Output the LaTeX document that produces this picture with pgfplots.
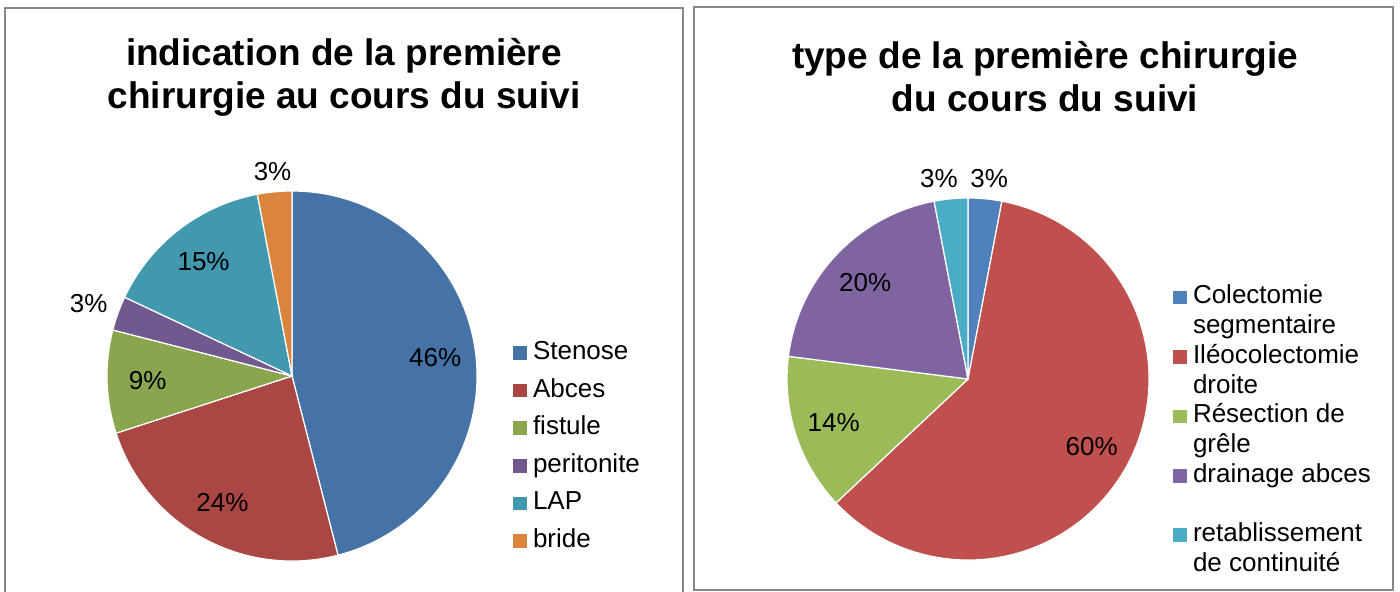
\documentclass[border=0pt]{standalone}
\usepackage{fontspec}
\setmainfont{Liberation Sans}
\usepackage{pgfplots}
\usepackage{pgfplotstable}
\pgfplotsset{compat=1.18}

% left pie colours
\definecolor{cL0}{HTML}{4572A7}
\definecolor{cL1}{HTML}{AA4643}
\definecolor{cL2}{HTML}{89A54E}
\definecolor{cL3}{HTML}{71588F}
\definecolor{cL4}{HTML}{4198AF}
\definecolor{cL5}{HTML}{DB843D}
% right pie colours
\definecolor{cR0}{HTML}{4F81BD}
\definecolor{cR1}{HTML}{C0504D}
\definecolor{cR2}{HTML}{9BBB59}
\definecolor{cR3}{HTML}{8064A2}
\definecolor{cR4}{HTML}{4BACC6}
\definecolor{frame}{HTML}{878787}

% value in %, dx = extra label shift (px)
\pgfplotstableread{
label value dx
Stenose 46 0
Abces 24 0
fistule 9 0
peritonite 3 0
LAP 15 0
bride 3 0
}\leftdata

\pgfplotstableread{
label value dx
Colectomie 3 2
Ileocolectomie 60 0
Resection 14 0
drainage 20 0
retablissement 3 -10
}\rightdata

\newcommand\lbl{\fontsize{13}{15.6}\selectfont}

% slices clockwise from 12 o'clock; #1 table, #2 radius (axis units), #3 colour prefix
\newcommand\pieslices[3]{%
  \pgfplotstablegetrowsof{#1}%
  \pgfmathtruncatemacro\lastrow{\pgfplotsretval-1}%
  \def\acc{90}%
  \pgfplotsforeachungrouped \i in {0,...,\lastrow}{%
    \pgfplotstablegetelem{\i}{value}\of{#1}\let\v\pgfplotsretval
    \pgfplotstablegetelem{\i}{dx}\of{#1}\let\dx\pgfplotsretval
    \pgfmathsetmacro\nacc{\acc-3.6*\v}%
    \pgfmathsetmacro\mid{(\acc+\nacc)/2}%
    \pgfmathsetmacro\sx{#2*cos(\acc)}%
    \pgfmathsetmacro\sy{#2*sin(\acc)}%
    \pgfmathtruncatemacro\isout{\v<5}%
    \ifnum\isout=1
      \pgfmathsetmacro\lr{1.02*#2}%
      \pgfmathsetmacro\anc{\mid+180}%
      \edef\ancopt{anchor=\anc}%
    \else
      \pgfmathsetmacro\lr{0.78*#2}%
      \def\ancopt{anchor=center}%
    \fi
    \pgfmathsetmacro\lx{\lr*cos(\mid)}%
    \pgfmathsetmacro\ly{\lr*sin(\mid)}%
    \pgfmathsetmacro\rpt{#2*0.5}%
    \pgfmathsetmacro\dxpt{\dx*0.5}%
    \edef\doslice{%
      \noexpand\fill[#3\i, draw=white, line width=0.6pt] (axis cs:0,0) -- (axis cs:\sx,\sy)
        arc[start angle=\acc, end angle=\nacc, radius=\rpt pt] -- cycle;
      \noexpand\node[font=\noexpand\lbl, \ancopt, xshift=\dxpt pt] at (axis cs:\lx,\ly) {\v\noexpand\%};}%
    \doslice
    \let\acc\nacc
  }%
}

\pgfplotsset{
  pie/.style={
    hide axis, clip=false,
    x=0.5pt, y=0.5pt,
    xmin=-200, xmax=200, ymin=-200, ymax=200,
    anchor=origin,
    legend cell align=left,
    legend image code/.code={\fill[##1, draw=none] (0pt,-3.4pt) rectangle (6.8pt,3.4pt);},
    legend style={draw=none, fill=none, inner sep=0pt, outer sep=0pt,
      anchor=north west, column sep=3.2pt, font=\lbl,
      nodes={inner sep=0pt, text height=9.5pt, text depth=3pt}},
  },
}

\begin{document}
\begin{tikzpicture}[x=0.5pt, y=-0.5pt]
\useasboundingbox (0,0) rectangle (1400,592);

% frames
\draw[frame, line width=1pt] (5,600) -- (5,8) -- (683,8) -- (683,600);
\draw[frame, line width=1pt] (694,7) rectangle (1393,590);

% titles
\node[align=center, font=\fontsize{18.5}{21.5}\bfseries\selectfont] at (344,77)
  {indication de la première\\chirurgie au cours du suivi};
\node[align=center, font=\fontsize{18.5}{21.5}\bfseries\selectfont] at (1045,77)
  {type de la première chirurgie\\du cours du suivi};

% centre at pixel (292,376)
\begin{axis}[pie, at={(146pt,-188pt)},
  legend style={at={(1.0525,0.58875)}, row sep=6.3pt}]
  \addlegendimage{fill=cL0}\addlegendentry{Stenose}
  \addlegendimage{fill=cL1}\addlegendentry{Abces}
  \addlegendimage{fill=cL2}\addlegendentry{fistule}
  \addlegendimage{fill=cL3}\addlegendentry{peritonite}
  \addlegendimage{fill=cL4}\addlegendentry{LAP}
  \addlegendimage{fill=cL5}\addlegendentry{bride}
  \pieslices{\leftdata}{185}{cL}
\end{axis}

% centre at pixel (968,379)
\begin{axis}[pie, at={(484pt,-189.5pt)},
  legend style={at={(1.0125,0.735)}, row sep=2.35pt}]
  \addlegendimage{fill=cR0}\addlegendentry{Colectomie}
  \addlegendimage{empty legend}\addlegendentry{segmentaire}
  \addlegendimage{fill=cR1}\addlegendentry{Iléocolectomie}
  \addlegendimage{empty legend}\addlegendentry{droite}
  \addlegendimage{fill=cR2}\addlegendentry{Résection de}
  \addlegendimage{empty legend}\addlegendentry{grêle}
  \addlegendimage{fill=cR3}\addlegendentry{drainage abces}
  \addlegendimage{empty legend}\addlegendentry{}
  \addlegendimage{fill=cR4}\addlegendentry{retablissement}
  \addlegendimage{empty legend}\addlegendentry{de continuité}
  \pieslices{\rightdata}{181}{cR}
\end{axis}
\end{tikzpicture}
\end{document}
